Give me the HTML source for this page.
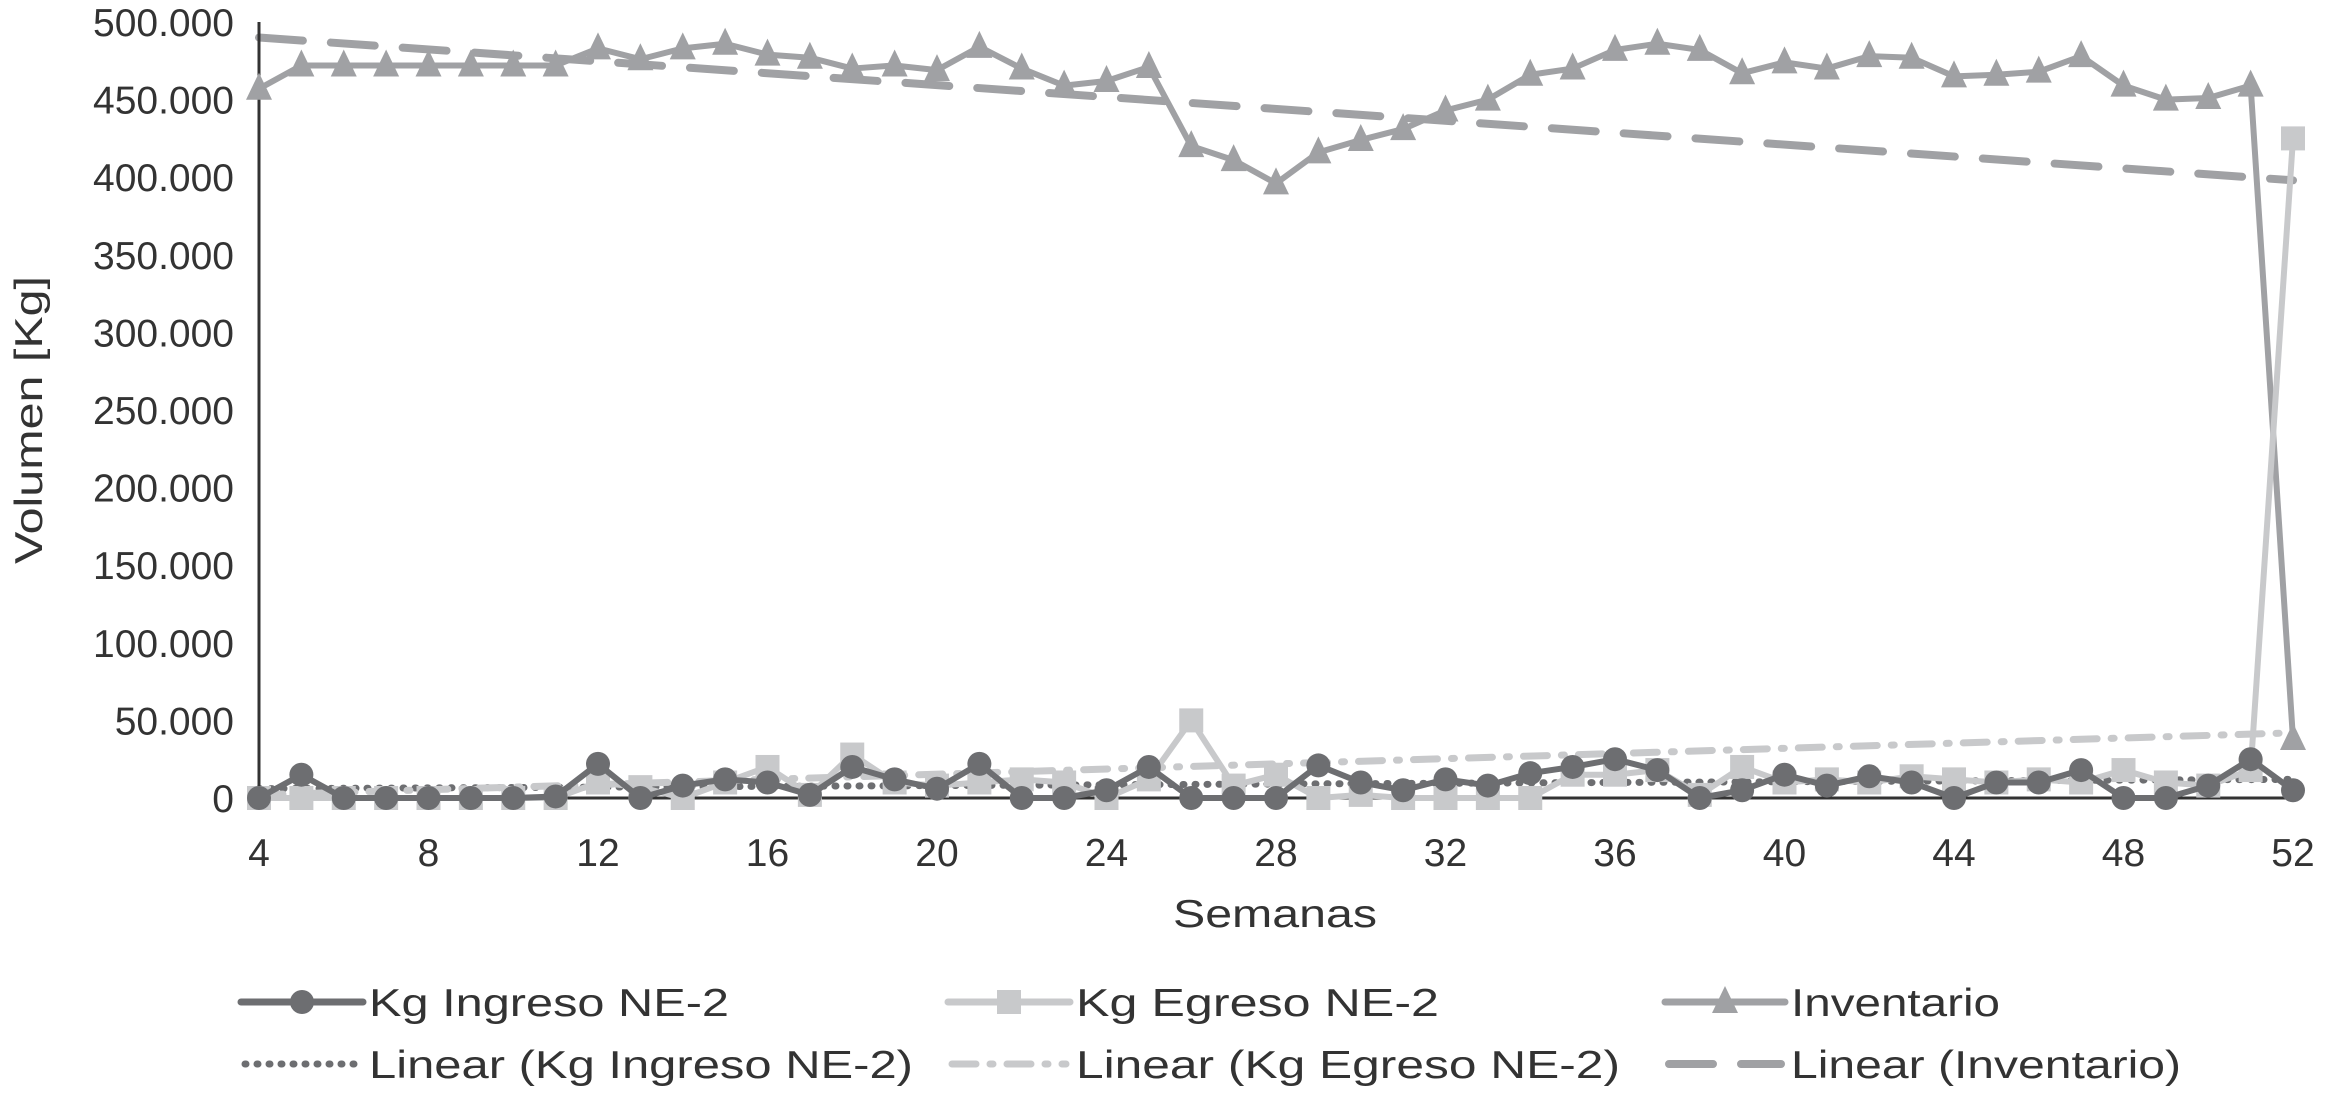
<!DOCTYPE html>
<html><head><meta charset="utf-8"><style>html,body{margin:0;padding:0;background:#fff}svg{display:block}text{font-family:"Liberation Sans",Arial,sans-serif;fill:#333}</style></head>
<body>
<svg id="chart" width="2338" height="1103" viewBox="0 0 2338 1103" xmlns="http://www.w3.org/2000/svg">
<g id="grid"></g>
<text transform="translate(42,420) rotate(-90)" text-anchor="middle" font-size="39" textLength="288" lengthAdjust="spacingAndGlyphs">Volumen [Kg]</text>
<text x="1275" y="927" text-anchor="middle" font-size="39" textLength="204" lengthAdjust="spacingAndGlyphs">Semanas</text>
<g id="legend"></g>
</svg>
<script>
const weeks = [4,5,6,7,8,9,10,11,12,13,14,15,16,17,18,19,20,21,22,23,24,25,26,27,28,29,30,31,32,33,34,35,36,37,38,39,40,41,42,43,44,45,46,47,48,49,50,51,52];
const ingreso = [0,15,0,0,0,0,0,1,22,0,8,12,10,2,20,12,6,22,0,0,5,20,0,0,0,21,10,5,12,8,16,20,25,18,0,5,15,8,14,10,0,10,10,18,0,0,8,25,5];
const egreso = [0,0,0,0,0,0,0,0,10,7,0,10,20,2,28,10,8,10,12,10,0,12,50,8,15,0,2,0,0,0,0,15,15,18,2,20,10,12,10,14,12,10,12,10,18,10,8,18,425];
const inventario = [457,472,472,472,472,472,472,472,483,476,483,486,479,477,470,472,469,484,470,459,462,471,420,411,396,416,424,431,443,450,466,470,482,486,482,467,474,470,478,477,465,466,468,478,459,450,451,459,38];
// trendline endpoint values (week 4, week 52) as shown in the chart
const trendIngreso = [6,12];
const trendEgreso = [2,42];
const trendInventario = [490,398];
const yTicks = [0,50,100,150,200,250,300,350,400,450,500];
const yTickLabels = ["0","50.000","100.000","150.000","200.000","250.000","300.000","350.000","400.000","450.000","500.000"];
const xTicks = [4,8,12,16,20,24,28,32,36,40,44,48,52];

const NS="http://www.w3.org/2000/svg";
const X0=259,X1=2293,Y0=798,Y1=22;
const xs=w=>X0+(w-4)/(52-4)*(X1-X0);
const ys=v=>Y0-v/500*(Y0-Y1);
const g=document.getElementById('grid');
function mk(tag,attrs,parent){const e=document.createElementNS(NS,tag);for(const k in attrs)e.setAttribute(k,attrs[k]);(parent||g).appendChild(e);return e;}

yTicks.forEach((t,i)=>{const e=mk('text',{x:234,y:ys(t)+14,'text-anchor':'end','font-size':39});e.textContent=yTickLabels[i];

});
xTicks.forEach(t=>{const e=mk('text',{x:xs(t),y:866,'text-anchor':'middle','font-size':39});e.textContent=t;

});

const series=[
 {name:'ingreso',vals:ingreso,tr:trendIngreso,col:'#6d6e71',marker:'circle',tcol:'#6d6e71',tdash:'1 11',tw:7},
 {name:'egreso',vals:egreso,tr:trendEgreso,col:'#c8c9cb',marker:'square',tcol:'#c8c9cb',tdash:'24 14 3 14',tw:7},
 {name:'inventario',vals:inventario,tr:trendInventario,col:'#a0a1a4',marker:'triangle',tcol:'#a0a1a4',tdash:'44 28',tw:8}
];
series.forEach(s=>{const l=mk('line',{x1:xs(4),y1:ys(s.tr[0]),x2:xs(52),y2:ys(s.tr[1]),stroke:s.tcol,'stroke-width':s.tw,'stroke-dasharray':s.tdash,'stroke-linecap':'round'});

});
function marker(type,x,y,col,parent){let e;
 if(type==='circle')e=mk('circle',{cx:x,cy:y,r:12,fill:col},parent);
 else if(type==='square')e=mk('rect',{x:x-12,y:y-12,width:24,height:24,fill:col},parent);
 else e=mk('polygon',{points:`${x},${y-16} ${x-13},${y+11} ${x+13},${y+11}`,fill:col},parent);
 return e;}
const ya=mk('line',{x1:X0,y1:Y1,x2:X0,y2:Y0,stroke:'#333','stroke-width':3});


const xa=mk('line',{x1:X0,y1:Y0,x2:X1,y2:Y0,stroke:'#333','stroke-width':3});


[series[2],series[1],series[0]].forEach(s=>{
 const p=mk('polyline',{points:s.vals.map((v,i)=>xs(weeks[i])+','+ys(v)).join(' '),fill:'none',stroke:s.col,'stroke-width':6,'stroke-linejoin':'round'});
 
 
 s.vals.forEach((v,i)=>{const m=marker(s.marker,xs(weeks[i]),ys(v),s.col);
 
 });
});
const lg=document.getElementById('legend');
const leg=[
 {x:241,y:1002,w:122,s:series[0],trend:false,label:'Kg Ingreso NE-2',tl:360},
 {x:948,y:1002,w:122,s:series[1],trend:false,label:'Kg Egreso  NE-2',tl:363},
 {x:1665,y:1002,w:120,s:series[2],trend:false,label:'Inventario',tl:209},
 {x:241,y:1064,w:122,s:series[0],trend:true,label:'Linear (Kg Ingreso NE-2)',tl:544},
 {x:948,y:1064,w:122,s:series[1],trend:true,label:'Linear (Kg Egreso  NE-2)',tl:544},
 {x:1665,y:1064,w:120,s:series[2],trend:true,label:'Linear (Inventario)',tl:390}
];
leg.forEach(L=>{const grp=mk('g',{},lg);
 
 
 if(L.trend)mk('line',{x1:L.x+4,y1:L.y,x2:L.x+L.w-4,y2:L.y,stroke:L.s.tcol,'stroke-width':L.s.tw,'stroke-dasharray':L.s.tdash,'stroke-linecap':'round'},grp);
 else{mk('line',{x1:L.x,y1:L.y,x2:L.x+L.w,y2:L.y,stroke:L.s.col,'stroke-width':7,'stroke-linecap':'round'},grp);marker(L.s.marker,L.x+L.w/2,L.y,L.s.col,grp);}
 const t=mk('text',{x:L.x+L.w+6,y:L.y+14,'font-size':39,textLength:L.tl,lengthAdjust:'spacingAndGlyphs'},grp);t.textContent=L.label;
});
</script>
</body></html>
